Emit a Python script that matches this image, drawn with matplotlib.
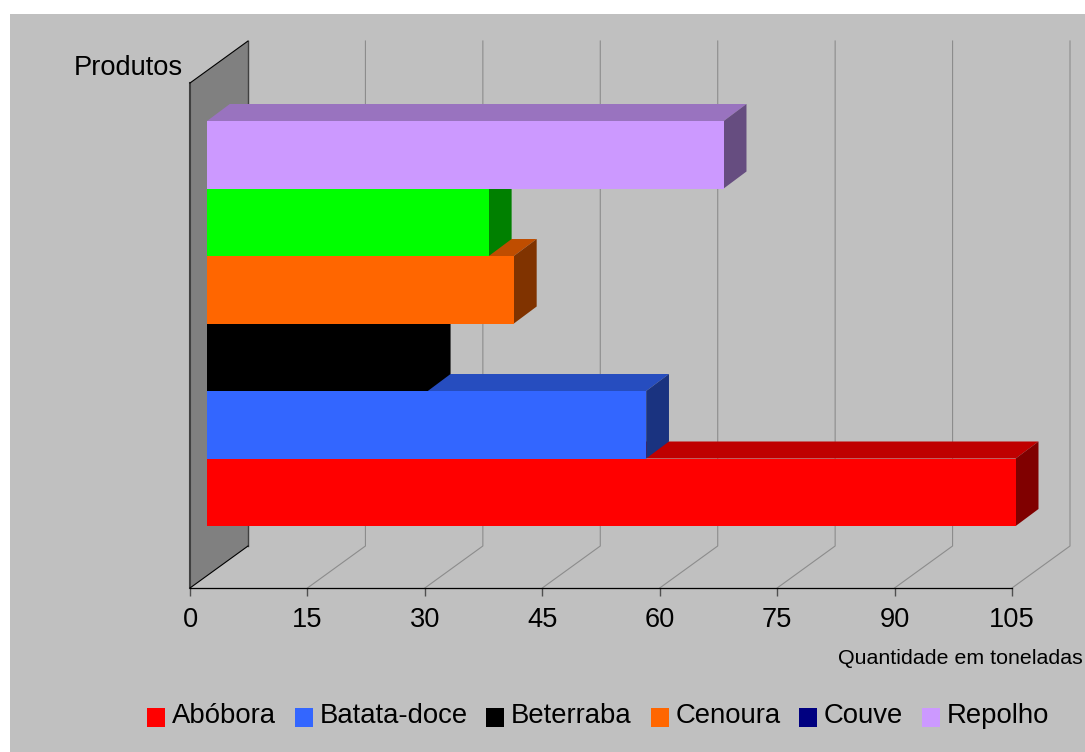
import matplotlib.pyplot as plt
from matplotlib.patches import Patch, Rectangle

# Data (tons)
produtos = ['Abóbora', 'Batata-doce', 'Beterraba', 'Cenoura', 'Couve', 'Repolho']
toneladas = [103.3, 56.1, 28.2, 39.2, 36.0, 66.0]
x_ticks = [0, 15, 30, 45, 60, 75, 90, 105]

# front / top / side colours of each bar, legend swatch is separate for Couve
front_cols = ['#FF0000', '#3366FF', '#000000', '#FF6600', '#00FF00', '#CC99FF']
top_cols = ['#BF0000', '#264DBF', '#000000', '#BF4D00', '#00BF00', '#9973BF']
side_cols = ['#800000', '#1A3380', '#000000', '#803300', '#008000', '#664D80']
legend_cols = ['#FF0000', '#3366FF', '#000000', '#FF6600', '#000080', '#CC99FF']

W, H = 1085, 752
plt.rcParams['font.family'] = ['Liberation Sans', 'DejaVu Sans']

fig = plt.figure(figsize=(W / 100, H / 100), dpi=100, facecolor='white')
fig.add_artist(Rectangle((10 / W, 0), 1 - 10 / W, 1 - 14 / H, transform=fig.transFigure,
                         facecolor='#C0C0C0', edgecolor='none', zorder=-10))

# plot plane: 0..105 spans 190..1012 px, floor at 588 px, front top at 83 px
ax = fig.add_axes([190 / W, 1 - 588 / H, 822 / W, 505 / H])
ax.patch.set_visible(False)

slot_px = 67.5
px_x = 105 / 822
px_y = 1 / slot_px
y0 = -0.5 - 49.5 * px_y
y1 = y0 + 505 * px_y
ax.set_xlim(0, 105)
ax.set_ylim(y0, y1)

# 3D offsets, in px converted to data units
wall_dx, wall_dy = 58 * px_x, 42 * px_y
bar_dx, bar_dy = 17 * px_x, 12.5 * px_y
depth_dx, depth_dy = 22.8 * px_x, 17 * px_y

# side wall
ax.fill([0, wall_dx, wall_dx, 0], [y0, y0 + wall_dy, y1 + wall_dy, y1],
        facecolor='#808080', edgecolor='none', clip_on=False, zorder=1)
ax.plot([0, 0], [y0, y1], color='#404040', lw=1.5, clip_on=False, zorder=2)
ax.plot([wall_dx, wall_dx], [y0 + wall_dy, y1 + wall_dy], color='#404040', lw=1, clip_on=False, zorder=2)
ax.plot([0, wall_dx], [y1, y1 + wall_dy], color='black', lw=0.8, clip_on=False, zorder=2)
ax.plot([0, wall_dx], [y0, y0 + wall_dy], color='black', lw=0.8, clip_on=False, zorder=2)

# gridlines on floor and back
for t in x_ticks[1:]:
    ax.plot([t, t + wall_dx, t + wall_dx], [y0, y0 + wall_dy, y1 + wall_dy],
            color='#8C8C8C', lw=0.8, clip_on=False, zorder=1)

# bars, lowest first so each one covers the faces of the one before
for i, v in enumerate(toneladas):
    z = 3 + i
    yb = i - 0.5 + bar_dy
    yt = i + 0.5 + bar_dy
    xe = v + bar_dx
    ax.fill([bar_dx, xe, xe + depth_dx, bar_dx + depth_dx], [yt, yt, yt + depth_dy, yt + depth_dy],
            facecolor=top_cols[i], edgecolor='none', clip_on=False, zorder=z)
    ax.fill([xe, xe + depth_dx, xe + depth_dx, xe], [yb, yb + depth_dy, yt + depth_dy, yt],
            facecolor=side_cols[i], edgecolor='none', clip_on=False, zorder=z)
    ax.barh(i + bar_dy, v, height=1, left=bar_dx, color=front_cols[i], clip_on=False, zorder=z)

for s in ['top', 'right', 'left']:
    ax.spines[s].set_visible(False)
ax.spines['bottom'].set_color('black')
ax.spines['bottom'].set_linewidth(0.9)
ax.spines['bottom'].set_zorder(2.5)

ax.set_yticks([])
ax.set_xticks(x_ticks)
ax.tick_params(axis='x', length=5.5, width=1, color='#505050', labelsize=19.6, pad=8, labelcolor='black')

ax.set_xlabel('Quantidade em toneladas', fontsize=15.4, ha='left', va='baseline')
ax.xaxis.set_label_coords((838 - 190) / 822, -(664 - 588) / 505)

fig.text(74 / W, 1 - 75 / H, 'Produtos', fontsize=19.6, ha='left', va='baseline')

handles = [Patch(facecolor=c, edgecolor='none') for c in legend_cols]
leg = fig.legend(handles, produtos, ncol=6, loc='lower left', bbox_to_anchor=(147 / W, 1 - 733 / H),
                 frameon=False, fontsize=19.8, borderpad=0, borderaxespad=0,
                 handlelength=0.655, handleheight=0.655, handletextpad=0.25, columnspacing=0.68)
# legend text sits a bit higher than the swatch
for t in leg.get_texts():
    t.set_y(4)

fig.savefig('out.png', dpi=100)
